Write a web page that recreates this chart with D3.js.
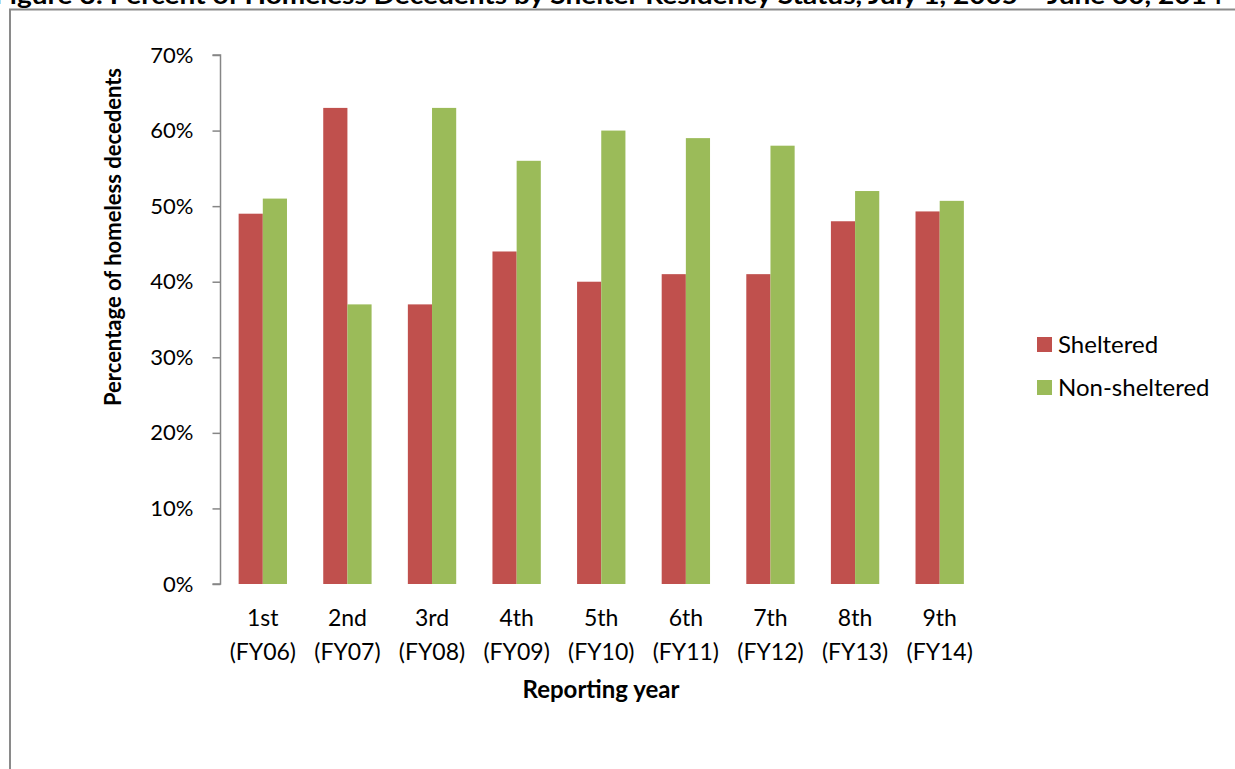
<!DOCTYPE html>
<html>
<head>
<meta charset="utf-8">
<script src="https://cdn.jsdelivr.net/npm/d3@7"></script>
<style>
  body { margin: 0; background: #fff; }
  svg { display: block; }
  text { font-family: Lato, "Open Sans", sans-serif; fill: #000; }
</style>
</head>
<body>
<svg id="chart"></svg>
<script>
// chart data
const categories = ["1st (FY06)", "2nd (FY07)", "3rd (FY08)", "4th (FY09)", "5th (FY10)",
                    "6th (FY11)", "7th (FY12)", "8th (FY13)", "9th (FY14)"];
const sheltered    = [49, 63, 37, 44, 40, 41, 41, 48, 49.3];
const nonSheltered = [51, 37, 63, 56, 60, 59, 58, 52, 50.7];
const seriesNames  = ["Sheltered", "Non-sheltered"];
const seriesColors = ["#C0504D", "#9BBB59"];
const yTicks = [0, 10, 20, 30, 40, 50, 60, 70];

const W = 1235, H = 769;
const svg = d3.select("#chart").attr("width", W).attr("height", H);

// outer frame (mostly cut off on right / bottom)
svg.append("rect")
  .attr("x", 10).attr("y", 9.5)
  .attr("width", 1400).attr("height", 900)
  .attr("fill", "none").attr("stroke", "#8a8a8a").attr("stroke-width", 2);

// title, clipped by the top edge
svg.append("text")
  .attr("x", -6).attr("y", 4)
  .attr("font-weight", "bold").attr("font-size", 24)
  .attr("textLength", 1229).attr("lengthAdjust", "spacingAndGlyphs")
  .text("Figure 3: Percent of Homeless Decedents by Shelter Residency Status, July 1, 2005 \u2013 June 30, 2014");

const plot = { left: 220.5, right: 982, top: 55, bottom: 584 };

// each category band holds two bars plus a gap of 1.5 bar widths
const x0 = d3.scaleBand()
  .domain(categories)
  .range([plot.left, plot.right])
  .padding(0);

const x1 = d3.scaleBand()
  .domain(seriesNames)
  .range([0, x0.bandwidth()])
  .paddingInner(0)
  .paddingOuter(0.75);

const y = d3.scaleLinear().domain([0, 70]).range([plot.bottom, plot.top]);

const rows = categories.map((c, i) => ({ cat: c, vals: [sheltered[i], nonSheltered[i]] }));

// bars
const groups = svg.append("g").selectAll("g")
  .data(rows).join("g")
  .attr("transform", d => `translate(${x0(d.cat)},0)`);

groups.selectAll("rect")
  .data(d => d.vals.map((v, k) => ({ key: seriesNames[k], v, k })))
  .join("rect")
  .attr("x", d => x1(d.key))
  .attr("y", d => y(d.v))
  .attr("width", x1.bandwidth())
  .attr("height", d => y(0) - y(d.v))
  .attr("fill", d => seriesColors[d.k]);

// y axis
const yAxis = svg.append("g")
  .attr("transform", `translate(${plot.left},0)`)
  .call(d3.axisLeft(y).tickValues(yTicks).tickSize(8).tickPadding(19).tickFormat(d => d + "%"));
yAxis.select(".domain").attr("stroke", "#868686").attr("stroke-width", 1.5)
  .attr("d", `M-8,${plot.top}H0V${plot.bottom}H-8`);
yAxis.selectAll(".tick line").attr("stroke", "#868686").attr("stroke-width", 1.5);
yAxis.selectAll(".tick text").attr("font-size", 22).attr("font-family", "Lato, sans-serif").attr("fill", "#000");

// x labels (two lines)
const xl = svg.append("g").selectAll("text")
  .data(categories).join("text")
  .attr("text-anchor", "middle")
  .attr("font-size", 23)
  .attr("x", d => x0(d) + x0.bandwidth() / 2)
  .attr("y", 626);
xl.append("tspan").attr("x", d => x0(d) + x0.bandwidth() / 2).text(d => d.split(" ")[0]);
xl.append("tspan").attr("x", d => x0(d) + x0.bandwidth() / 2).attr("dy", 34).text(d => d.split(" ")[1]);

// axis titles
svg.append("text")
  .attr("x", 601).attr("y", 698)
  .attr("text-anchor", "middle").attr("font-weight", "bold").attr("font-size", 24)
  .text("Reporting year");

svg.append("text")
  .attr("transform", "translate(121,237) rotate(-90)")
  .attr("text-anchor", "middle").attr("font-weight", "bold").attr("font-size", 22)
  .text("Percentage of homeless decedents");

// legend
const legend = svg.append("g").selectAll("g")
  .data(seriesNames).join("g")
  .attr("transform", (d, i) => `translate(1037,${337 + i * 43})`);
legend.append("rect").attr("width", 15).attr("height", 15)
  .attr("fill", (d, i) => seriesColors[i]);
legend.append("text").attr("x", 21).attr("y", 15.5)
  .attr("font-size", 24).text(d => d);
</script>
</body>
</html>
